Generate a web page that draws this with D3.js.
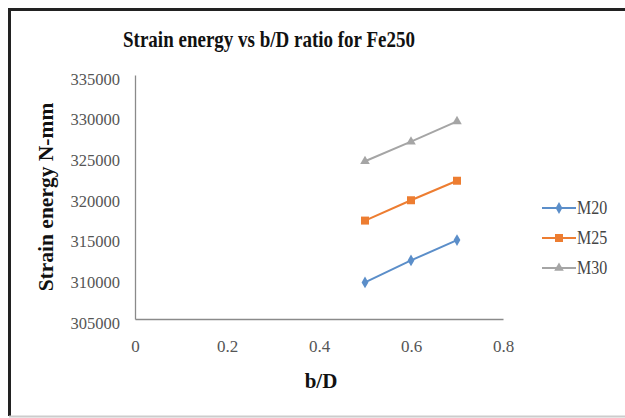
<!DOCTYPE html>
<html>
<head>
<meta charset="utf-8">
<script src="https://cdn.jsdelivr.net/npm/d3@7"></script>
<style>
  body { margin: 0; background: #fff; }
  svg text { font-family: "Liberation Serif", "Times New Roman", serif; }
</style>
</head>
<body>
<div id="chart"></div>
<script>
const WIDTH = 625;
const HEIGHT = 418;

// b/D ratios and strain energy (N-mm) for each concrete grade
const ratios = [0.5, 0.6, 0.7];
const m20 = [309500, 312200, 314700];
const m25 = [317100, 319600, 322000];
const m30 = [324400, 326800, 329300];
const seriesNames = ["M20", "M25", "M30"];
const seriesColors = ["#5b8ec9", "#ed7d31", "#a5a5a5"];
const xTicks = [0, 0.2, 0.4, 0.6, 0.8];
const yTicks = [305000, 310000, 315000, 320000, 325000, 330000, 335000];

let svg = d3.select("#chart").append("svg")
  .attr("width", WIDTH)
  .attr("height", HEIGHT);

// outer frame: dark left/top, light bottom
svg.append("path")
  .attr("d", "M9.5,416V9.5H" + WIDTH)
  .attr("fill", "none")
  .attr("stroke", "#222")
  .attr("stroke-width", 3);
svg.append("line")
  .attr("x1", 9).attr("x2", WIDTH)
  .attr("y1", 416.5).attr("y2", 416.5)
  .attr("stroke", "#ccc").attr("stroke-width", 2);

let xscale = d3.scaleLinear().domain([0, 0.8]).range([135, 503]);
let yscale = d3.scaleLinear().domain([305000, 335000]).range([319, 75]);

let x_axis = d3.axisBottom(xscale).tickValues(xTicks).tickSize(0).tickPadding(21)
  .tickFormat(d => d === 0 ? "0" : d3.format(".1f")(d));
let y_axis = d3.axisLeft(yscale).tickValues(yTicks).tickSize(0).tickPadding(15)
  .tickFormat(d3.format("d"));

let gx = svg.append("g").attr("transform", "translate(0,319)").call(x_axis);
let gy = svg.append("g").attr("transform", "translate(135,0)").call(y_axis);

gx.select(".domain").attr("stroke", "#8a8a8a").attr("stroke-width", 1.3);
gy.select(".domain").attr("stroke", "#8a8a8a").attr("stroke-width", 1.3);
gx.selectAll("text").attr("font-size", 17).attr("fill", "#555")
  .style("font-family", "Liberation Serif");
gy.selectAll("text").attr("font-size", 16.5).attr("fill", "#555")
  .attr("dy", "0.55em")
  .style("font-family", "Liberation Serif");

// titles (text is a little tall and narrow)
svg.append("text")
  .attr("transform", "translate(269,47) scale(1,1.25)")
  .attr("text-anchor", "middle")
  .attr("font-size", 19).attr("font-weight", "bold")
  .attr("fill", "#111")
  .text("Strain energy vs b/D ratio for Fe250");

svg.append("text")
  .attr("transform", "translate(53,197) rotate(-90)")
  .attr("text-anchor", "middle")
  .attr("font-size", 21.5).attr("font-weight", "bold")
  .attr("fill", "#111")
  .text("Strain energy N-mm");

svg.append("text")
  .attr("x", 321).attr("y", 388)
  .attr("text-anchor", "middle")
  .attr("font-size", 21).attr("font-weight", "bold")
  .attr("fill", "#111")
  .text("b/D");

let allSeries = [m20, m25, m30];
let symbols = [d3.symbolDiamond, d3.symbolSquare, d3.symbolTriangle];
let symbolSizes = [40, 64, 40];

let line = d3.line()
  .x((d, i) => xscale(ratios[i]))
  .y(d => yscale(d));

allSeries.forEach((vals, k) => {
  svg.append("path")
    .datum(vals)
    .attr("fill", "none")
    .attr("stroke", seriesColors[k])
    .attr("stroke-width", 2)
    .attr("d", line);
  svg.selectAll(".pt" + k)
    .data(vals)
    .enter().append("path")
    .attr("class", "pt" + k)
    .attr("transform", (d, i) => "translate(" + xscale(ratios[i]) + "," + yscale(d) + ")")
    .attr("d", d3.symbol().type(symbols[k]).size(symbolSizes[k]))
    .attr("fill", seriesColors[k]);
});

// legend
let legend = svg.append("g").attr("transform", "translate(542,0)");
seriesNames.forEach((name, k) => {
  let ly = 208 + k * 30;
  legend.append("line")
    .attr("x1", 0).attr("x2", 34)
    .attr("y1", ly).attr("y2", ly)
    .attr("stroke", seriesColors[k]).attr("stroke-width", 2);
  legend.append("path")
    .attr("transform", "translate(17," + ly + ")")
    .attr("d", d3.symbol().type(symbols[k]).size(symbolSizes[k]))
    .attr("fill", seriesColors[k]);
  legend.append("text")
    .attr("transform", "translate(35," + (ly + 6) + ") scale(1,1.2)")
    .attr("font-size", 16).attr("fill", "#444")
    .text(name);
});
</script>
</body>
</html>
